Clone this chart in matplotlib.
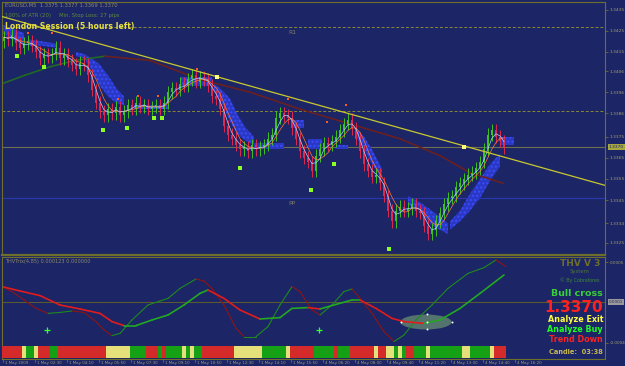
import numpy as np
import pandas as pd
import matplotlib
matplotlib.use("Agg")
import matplotlib.pyplot as plt
from matplotlib.patches import Ellipse

W, H = 625, 366
BG = "#1c2566"
FRAME = "#6f6f2c"
TXT = "#a0a070"

# ---- price data (EURUSD M5) ----
closes = [
    1.3422, 1.3421, 1.3423, 1.3419, 1.3417, 1.3419, 1.3420, 1.3418, 1.3415, 1.3412,
    1.3414, 1.3413, 1.3414, 1.3417, 1.3412, 1.3414, 1.3411, 1.3409, 1.3407, 1.3410,
    1.3409, 1.3404, 1.3397, 1.3391, 1.3387, 1.3385, 1.3388, 1.3386, 1.3389, 1.3385,
    1.3387, 1.3390, 1.3388, 1.3391, 1.3389, 1.3390, 1.3388, 1.3389, 1.3390, 1.3388,
    1.3391, 1.3396, 1.3398, 1.3397, 1.3400, 1.3399, 1.3402, 1.3404, 1.3401, 1.3403,
    1.3402, 1.3399, 1.3394, 1.3393, 1.3388, 1.3380, 1.3376, 1.3374, 1.3371, 1.3369,
    1.3370, 1.3368, 1.3371, 1.3369, 1.3370, 1.3371, 1.3374, 1.3376, 1.3384, 1.3386,
    1.3385, 1.3384, 1.3379, 1.3374, 1.3368, 1.3365, 1.3363, 1.3359, 1.3366, 1.3369,
    1.3372, 1.3371, 1.3373, 1.3375, 1.3378, 1.3381, 1.3383, 1.3379, 1.3374, 1.3368,
    1.3362, 1.3359, 1.3356, 1.3357, 1.3353, 1.3347, 1.3340, 1.3335, 1.3340, 1.3342,
    1.3340, 1.3341, 1.3343, 1.3340, 1.3339, 1.3333, 1.3329, 1.3331, 1.3335, 1.3339,
    1.3343, 1.3346, 1.3347, 1.3351, 1.3353, 1.3355, 1.3357, 1.3358, 1.3360, 1.3363,
    1.3369, 1.3376, 1.3378, 1.3375, 1.3373, 1.3370,
]
first_open = 1.3420
wick = 0.0003

# trend line anchors (bar, price)
trend_x = [-1, 150.25]
trend_y = [1.3432, 1.3352]
touch_x = [53.25, 115]
touch_y = [1.3403, 1.3370]

# slow moving average (green rising / brown falling)
ma_x = [-0.5, 5.25, 11.5, 17.75, 25.25, 36.5, 49, 61.5, 74, 86.5, 99, 109, 116.5, 124.75]
ma_y = [1.3400, 1.3404, 1.3408, 1.3411, 1.3413, 1.3411, 1.3402, 1.3396, 1.3388,
        1.3381, 1.3374, 1.3366, 1.3358, 1.3353]

# blue dotted band (NaN separates pieces)
nan = np.nan
band_x = [-0.5, 2, 5, nan, 6, 9.5, 13, nan, 18, 20, 22, 24, 26, 28, 30, nan,
          32.5, 36.5, 41, nan, 44, 48, 52, nan, 52.5, 54.5, 56.5, 58.5, 60.5, 62.5, nan,
          62.5, 66, 70, nan, 72, 75, nan, 76, 79.5, nan, 83, 86, nan,
          88, 90, 92, 94.5, nan, 101, 104, 107, 111, nan,
          111.5, 114, 116.5, 119, 121.5, 124, nan, 124, 127.5]
band_hi = [1.3428, 1.3426, 1.3424, nan, 1.3421, 1.3420, 1.3419, nan,
           1.3415, 1.3414, 1.3412, 1.3409, 1.3404, 1.3398, 1.3394, nan,
           1.3390, 1.3390, 1.3390, nan, 1.3403, 1.3403, 1.3403, nan,
           1.3400, 1.3397, 1.3393, 1.3385, 1.3379, 1.3375, nan,
           1.3372, 1.3372, 1.3372, nan, 1.3383, 1.3383, nan, 1.3374, 1.3374, nan,
           1.3371, 1.3371, nan, 1.3379, 1.3375, 1.3369, 1.3360, nan,
           1.3347, 1.3344, 1.3340, 1.3334, nan,
           1.3335, 1.3340, 1.3348, 1.3355, 1.3362, 1.3367, nan, 1.3375, 1.3375]
band_lo = [1.3424, 1.3421, 1.3419, nan, 1.3418, 1.3418, 1.3417, nan,
           1.3413, 1.3412, 1.3406, 1.3399, 1.3394, 1.3391, 1.3390, nan,
           1.3388, 1.3388, 1.3388, nan, 1.3399, 1.3399, 1.3399, nan,
           1.3397, 1.3391, 1.3382, 1.3376, 1.3373, 1.3371, nan,
           1.3369, 1.3369, 1.3369, nan, 1.3379, 1.3379, nan, 1.3369, 1.3369, nan,
           1.3369, 1.3369, nan, 1.3375, 1.3369, 1.3362, 1.3355, nan,
           1.3343, 1.3340, 1.3333, 1.3329, nan,
           1.3331, 1.3335, 1.3340, 1.3346, 1.3354, 1.3361, nan, 1.3371, 1.3371]

# fractal dots
up_x = [6, 12, 28.5, 33.5, 38.5, 48.25, 71, 80.75, 85.5]
up_y = [1.3424, 1.3424, 1.3393, 1.3394, 1.3394, 1.3407, 1.3393, 1.3382, 1.3390]
dn_x = [3.25, 10, 24.75, 30.75, 37.5, 39.5, 59, 76.75, 82.5, 96.25]
dn_y = [1.3413, 1.3408, 1.3378, 1.3379, 1.3384, 1.3384, 1.3360, 1.3350, 1.3362, 1.3322]

# horizontal levels
r1_level = 1.3427
mid_level = 1.3387
pp_level = 1.3346
bid = 1.3370

price_ticks = [1.3435, 1.3425, 1.3415, 1.3406, 1.3396, 1.3386, 1.3375, 1.3365,
               1.3355, 1.3345, 1.3334, 1.3325]

# ---- THV Trix (x1e-5) ----
fast_x = [-0.5, 2, 5, 8, 11, 14, 17, 20, 23, 25, 27, 29, 32, 36, 39, 41, 44, 48, 50, 52,
          55, 58, 60, 63, 66, 69, 72, 74, 77, 79, 82, 85, 87, 89, 92, 95, 97.5, 100,
          103, 107, 111, 116, 120, 123, 125.5]
fast_y = [7.7, 5.2, 1.0, -3.2, -5.7, -5.2, -4.5, -5.2, -9.8, -14.0, -16.8, -15.7, -9.0,
          -1.5, 0.5, 1.8, 6.8, 11.5, 10.5, 6.8, -1.5, -13.2, -17.3, -17.3, -12.3, -1.5,
          7.7, 5.2, -4.0, -6.5, -1.5, 5.2, 6.5, 1.8, -5.7, -14.8, -19.8, -16.5, -9.0,
          -1.5, 6.8, 14.3, 17.2, 21.0, 17.7]
slow_x = [-0.5, 4, 9, 14, 19, 24, 27, 30, 33, 37, 41, 45, 49, 51, 55, 59, 64, 69, 72,
          76, 79, 83, 87, 89, 93, 97, 100, 105, 109, 114, 119, 125]
slow_y = [7.7, 5.5, 3.2, -1.5, -3.5, -5.7, -9.8, -11.8, -11.8, -9.0, -6.5, -1.5, 4.3,
          6.0, 1.8, -4.0, -8.5, -7.8, -3.2, -2.8, -3.5, -1.2, 1.0, 1.0, -3.2, -8.2,
          -9.8, -10.7, -9.0, -3.2, 4.3, 13.5]
cross_x = [10.75, 78.75]
cross_y = [-14, -14]

# trend state per bar: R red, G green, Y yellow
state = ("RRRRRYGGYRRRGGRRRRRRRRRRRRYYYYYYGGGGRRRGRGGGGYGYGG"
         "RRRRRRRRYYYYYYYGGGGGGYRRRRRRGGGGGRGGGRRRRRRYRRYYGYG"
         "RRGGGYGGGGGGGGYYGGGGGYRRR")

time_labels = ["1 May 2009", "1 May 02:30", "1 May 04:10", "1 May 05:50", "1 May 07:30",
               "1 May 09:10", "1 May 10:50", "1 May 12:30", "1 May 14:10", "1 May 15:50",
               "4 May 06:20", "4 May 08:00", "4 May 09:40", "4 May 11:20", "4 May 13:00",
               "4 May 14:40", "4 May 16:20"]

# ---- figure ----
fig = plt.figure(figsize=(W / 100, H / 100), dpi=100, facecolor=BG)


def rect(x0, y0, x1, y1):
    return [x0 / W, 1 - y1 / H, (x1 - x0) / W, (y1 - y0) / H]


def ftext(x, y, s, **kw):
    fig.text(x / W, 1 - y / H, s, **kw)


ax = fig.add_axes(rect(2, 2, 605, 255))
ax.set_facecolor(BG)
n = len(closes)
idx = np.arange(n)
c = np.array(closes)
o = np.concatenate([[first_open], c[:-1]])
hi = np.maximum(o, c) + wick
lo = np.minimum(o, c) - wick
bull = c >= o
col = np.where(bull, "#3cc21e", "#e0284e")

ax.fill_between(band_x, band_lo, band_hi, color="#2a38c4", lw=0, zorder=1)
ax.fill_between(band_x, band_lo, band_hi, facecolor="none", edgecolor="#3a4cff",
                hatch="....", lw=0, zorder=1.05)
ax.axhline(bid, color="#6c7050", lw=0.8, zorder=0.5)
ax.axhline(r1_level, color="#8a8a30", lw=0.7, ls=(0, (3, 2)), zorder=0.5)
ax.axhline(mid_level, color="#8a8a30", lw=0.7, ls=(0, (3, 2)), zorder=0.5)
ax.axhline(pp_level, color="#2838a8", lw=0.9, zorder=0.5)
ax.text(71, 1.3424, "R1", color="#7a7a70", fontsize=4.5, ha="left", va="center")
ax.text(71, 1.33435, "PP", color="#7a7a70", fontsize=4.5, ha="left", va="center")

for i in range(len(ma_x) - 1):
    seg_col = "#1f6a24" if ma_y[i + 1] >= ma_y[i] else "#6a2020"
    ax.plot(ma_x[i:i + 2], ma_y[i:i + 2], color=seg_col, lw=1.2, zorder=1.5)

ax.vlines(idx, lo, hi, colors=col, lw=0.7, zorder=2)
ax.bar(idx, np.maximum(np.abs(c - o), 0.00005), bottom=np.minimum(o, c), width=0.7,
       color=col, lw=0, zorder=2.1)
ma3 = pd.Series(c).rolling(3, min_periods=1).mean()
ma5 = pd.Series(c).rolling(5, min_periods=1).mean()
ax.plot(idx, ma5, color="#ff7a30", lw=0.5, zorder=2.2)
ax.plot(idx, ma3, color="#a8d4ff", lw=0.5, zorder=2.3)

ax.plot(trend_x, trend_y, color="#c8c830", lw=0.9, zorder=3)
ax.scatter(touch_x, touch_y, s=5, marker="s", color="#ffff80", zorder=4, lw=0)
ax.scatter(up_x, up_y, s=4, marker="s", color="#ff5a1e", zorder=4, lw=0)
ax.scatter(dn_x, dn_y, s=5, marker="s", color="#8cff20", zorder=4, lw=0)

ylo, yhi = 1.33191, 1.34386
ax.set_xlim(-0.5, 150.25)
ax.set_ylim(ylo, yhi)
ax.set_xticks([])
ax.yaxis.tick_right()
ax.set_yticks(price_ticks)
ax.set_yticklabels([f"{p:.4f}" for p in price_ticks])
ax.tick_params(axis="y", colors=FRAME, labelcolor=TXT, labelsize=3.2, length=2, width=0.6, pad=1.5)
for s in ax.spines.values():
    s.set_color(FRAME)
    s.set_linewidth(0.8)
ax.spines["bottom"].set_linewidth(1.6)
ax.text(1.006, (bid - ylo) / (yhi - ylo), f"{bid:.4f}", transform=ax.transAxes,
        fontsize=3.2, color="#1c2566", va="center", ha="left",
        bbox=dict(boxstyle="square,pad=0.2", fc="#a8a840", ec="none"), clip_on=False)

# ---- indicator ----
ai = fig.add_axes(rect(2, 257, 605, 359))
ai.set_facecolor(BG)
ai.axhline(0, color="#5a5a30", lw=0.8, zorder=0.5)


def dir_plot(xs, ys, up, down, lw):
    for i in range(len(xs) - 1):
        cc = up if ys[i + 1] >= ys[i] else down
        ai.plot(xs[i:i + 2], ys[i:i + 2], color=cc, lw=lw, solid_capstyle="round", zorder=2)


dir_plot(fast_x, fast_y, "#1e8a1e", "#8e1414", 0.8)
dir_plot(slow_x, slow_y, "#22a822", "#e01c1c", 1.2)
ai.scatter(cross_x, cross_y, marker="+", s=14, color="#30ff30", lw=0.9, zorder=3)
ai.add_patch(Ellipse((105.5, -10), 12.8, 7.5, fc="#5f8070", ec="none", alpha=0.85, zorder=1.5))
ai.scatter([99.25, 105.75, 105.75, 105.75, 112], [-10, -6, -10, -13.5, -10], s=2,
           color="white", zorder=4, lw=0)
ai.set_xlim(-0.5, 150.25)
ai.set_ylim(-28.5, 22.5)
ai.set_xticks([])
ai.yaxis.tick_right()
ai.set_yticks([20.0, -20.5])
ai.set_yticklabels(["0.0005", "-0.0004"])
ai.tick_params(axis="y", colors=FRAME, labelcolor=TXT, labelsize=3.0, length=2, width=0.6, pad=1.5)
for s in ai.spines.values():
    s.set_color(FRAME)
    s.set_linewidth(0.8)
ai.text(1.006, 28.5 / 51, "0.0001", transform=ai.transAxes, fontsize=3.0, color="#1c2566",
        va="center", ha="left", bbox=dict(boxstyle="square,pad=0.2", fc="#9a9a9a", ec="none"),
        clip_on=False)

# state strip
ast = fig.add_axes(rect(2, 346, 605, 358))
ast.set_facecolor(BG)
state_col = {"R": "#d42a2a", "G": "#16a016", "Y": "#e6e07a"}
ast.bar(np.arange(len(state)), 1, width=0.8, color=[state_col[k] for k in state], lw=0)
ast.set_xlim(-0.5, 150.25)
ast.set_ylim(0, 1)
ast.axis("off")

# time axis
for k, lab in enumerate(time_labels):
    ftext(5 + 32 * k, 363, lab, fontsize=2.9, color=TXT, ha="left", va="center")
    fig.add_artist(plt.Line2D([(3 + 32 * k) / W] * 2, [1 - 359 / H, 1 - 362 / H],
                              color=FRAME, lw=0.6))

# texts
ftext(5, 5, "EURUSD,M5  1.3375 1.3377 1.3369 1.3370", fontsize=3.8, color="#8a8a6a",
      va="center")
ftext(5, 15, "100% of ATR (20)     Min. Stop Loss: 27 pips", fontsize=3.8, color="#5e8a3a",
      va="center")
ftext(5, 26, "London Session (5 hours left)", fontsize=5.6, color="#e8e040",
      fontweight="bold", va="center")
ftext(5, 262, "THVTrix(4,85) 0.000123 0.000000", fontsize=3.6, color="#8a8a6a", va="center")
ftext(580, 263, "THV V 3", fontsize=6.5, color="#6e6e2c", fontweight="bold", ha="center",
      va="center")
ftext(580, 272, "System", fontsize=3.8, color="#4f7a3a", ha="center", va="center")
ftext(580, 280, "\u00a9 By Cobraforex", fontsize=3.4, color="#3f8a3a", ha="center",
      va="center")
ftext(603, 293, "Bull cross", fontsize=6.8, color="#38d038", fontweight="bold", ha="right",
      va="center")
ftext(603, 307, "1.3370", fontsize=11, color="#ff2020", fontweight="bold", ha="right",
      va="center")
ftext(603, 320, "Analyze Exit", fontsize=5.8, color="#ffff40", fontweight="bold", ha="right",
      va="center")
ftext(603, 329, "Analyze Buy", fontsize=5.8, color="#20ff20", fontweight="bold", ha="right",
      va="center")
ftext(603, 340, "Trend Down", fontsize=5.8, color="#ff2020", fontweight="bold", ha="right",
      va="center")
ftext(603, 352, "Candle:  03:38", fontsize=4.8, color="#c8b850", fontweight="bold", ha="right",
      va="center")

fig.savefig("out.png", dpi=100, facecolor=BG)
